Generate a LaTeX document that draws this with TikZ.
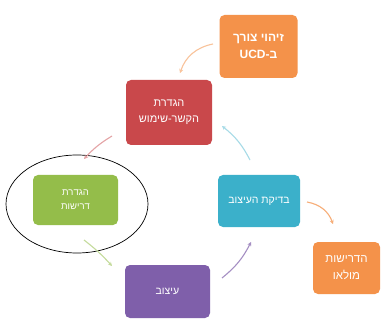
\documentclass[tikz,border=0pt]{standalone}
\usepackage{fontspec}
\usetikzlibrary{arrows.meta,shapes.geometric}
\TeXXeTstate=1
\newfontfamily\hebfont[Script=Hebrew]{Liberation Sans}
\definecolor{cOrange}{HTML}{F4924A}
\definecolor{cRed}{HTML}{C9484B}
\definecolor{cGreen}{HTML}{94BD4A}
\definecolor{cBlue}{HTML}{3BB0CA}
\definecolor{cPurple}{HTML}{7F5FAA}
\tikzset{
  stagebox/.style={draw=none, rounded corners=5pt, text=white, align=center,
    font=\hebfont\fontsize{10}{13}\selectfont, inner sep=0pt},
  conn/.style={line width=1.1pt, -{Stealth[length=4pt,width=4pt]}},
}
\begin{document}
\begin{tikzpicture}[x=1pt,y=-1pt]
\fill[white] (0,0) rectangle (382,320);
\useasboundingbox (0,0) rectangle (382,320);
% boxes
\node[stagebox, fill=cOrange, minimum width=78pt, minimum height=63pt, font=\hebfont\bfseries\fontsize{12}{17}\selectfont] (need) at (258.5,46.5) {\beginR זיהוי צורך\endR\\\beginR ב-\beginL UCD\endL\endR};
\node[stagebox, fill=cRed, minimum width=86pt, minimum height=65pt, font=\hebfont\fontsize{11}{16}\selectfont] (ctx) at (169,112.5) {\beginR הגדרת\endR\\\beginR הקשר-שימוש\endR};
\node[stagebox, fill=cGreen, minimum width=85pt, minimum height=50pt, font=\hebfont\fontsize{9.5}{14}\selectfont] (req) at (75.5,200) {\beginR הגדרת\endR\\\beginR דרישות\endR};
\node[stagebox, fill=cBlue, minimum width=82pt, minimum height=52pt, font=\hebfont\fontsize{10.5}{14}\selectfont] (test) at (259,201) {\beginR בדיקת העיצוב\endR};
\node[stagebox, fill=cOrange, minimum width=67pt, minimum height=52pt, font=\hebfont\fontsize{11.5}{17}\selectfont] (done) at (346.5,268) {\beginR הדרישות\endR\\\beginR מולאו\endR};
\node[stagebox, fill=cPurple, minimum width=85pt, minimum height=53pt, font=\hebfont\fontsize{10.5}{14}\selectfont] (des) at (167.5,291.5) {\beginR עיצוב\endR};
% ellipse around requirements
\node[draw=black, line width=0.7pt, ellipse, minimum width=142pt, minimum height=98pt, inner sep=0pt] (ring) at (77,204) {};
% arrow end points
\coordinate (a1s) at (213,44); \coordinate (a1e) at (180,73);
\coordinate (a2s) at (112,136); \coordinate (a2e) at (84,159);
\coordinate (a3s) at (84,240); \coordinate (a3e) at (112,266);
\coordinate (a4s) at (222,278); \coordinate (a4e) at (251,242);
\coordinate (a5s) at (250,160); \coordinate (a5e) at (222,126);
\coordinate (a6s) at (307,202); \coordinate (a6e) at (333,224);
\draw[conn, draw=cOrange!55] (a1s) to[bend right=30] (a1e);
\draw[conn, draw=cRed!50] (a2s) to[bend right=8] (a2e);
\draw[conn, draw=cGreen!55] (a3s) to[bend left=5] (a3e);
\draw[conn, draw=cPurple!70] (a4s) to[bend right=12] (a4e);
\draw[conn, draw=cBlue!45] (a5s) to[bend right=12] (a5e);
\draw[conn, draw=cOrange!75] (a6s) to[bend left=30] (a6e);
\end{tikzpicture}
\end{document}
